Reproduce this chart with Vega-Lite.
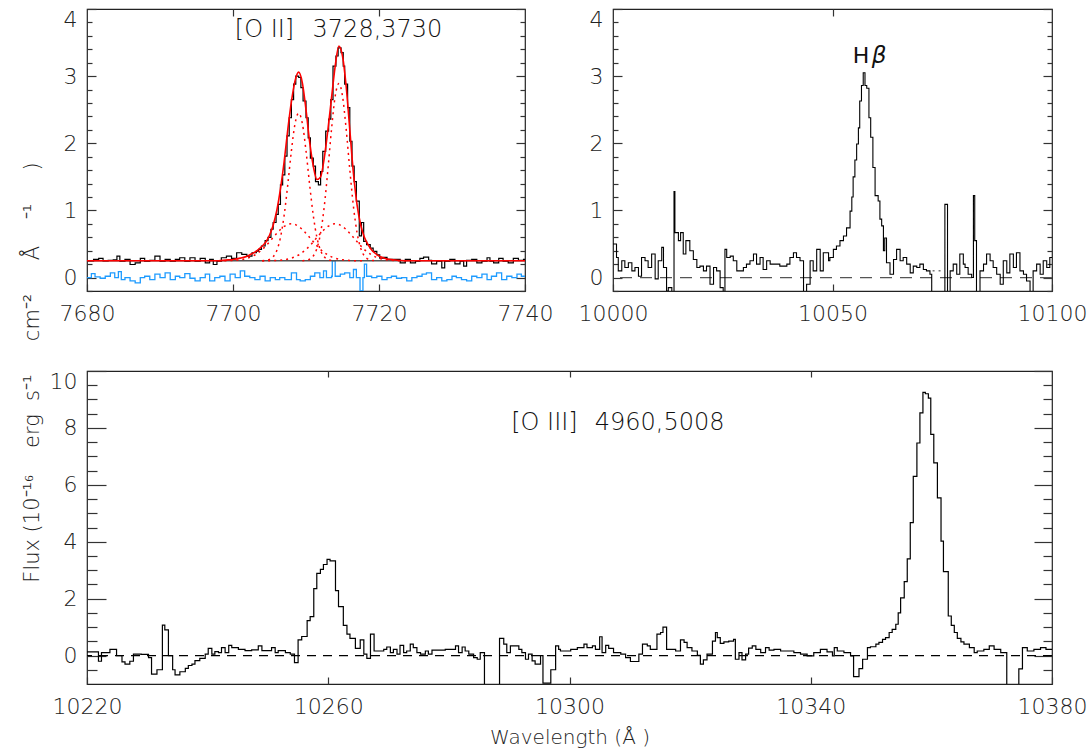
{
"$schema": "https://vega.github.io/schema/vega-lite/v6.json",
"background": "white",
"padding": {"left": 20, "top": 7, "right": 2, "bottom": 2},
"bounds": "flush",
"spacing": 362,
"datasets": {
"oii": [
{"w":7680.0,"f":0.25},{"w":7680.9,"f":0.27},{"w":7681.6,"f":0.285},{"w":7682.2,"f":0.25},{"w":7682.9,"f":0.255},{"w":7683.6,"f":0.265},{"w":7684.1,"f":0.32},{"w":7684.5,"f":0.245},{"w":7685.2,"f":0.27},{"w":7685.9,"f":0.195},{"w":7686.6,"f":0.22},{"w":7687.3,"f":0.285},{"w":7687.9,"f":0.245},{"w":7688.6,"f":0.255},{"w":7689.3,"f":0.32},{"w":7690.0,"f":0.245},{"w":7690.7,"f":0.27},{"w":7691.4,"f":0.245},{"w":7692.1,"f":0.27},{"w":7692.7,"f":0.295},{"w":7693.4,"f":0.245},{"w":7694.1,"f":0.295},{"w":7694.8,"f":0.245},{"w":7695.5,"f":0.285},{"w":7696.2,"f":0.22},{"w":7696.8,"f":0.27},{"w":7697.3,"f":0.195},{"w":7697.8,"f":0.245},{"w":7698.4,"f":0.295},{"w":7699.1,"f":0.32},{"w":7699.8,"f":0.285},{"w":7700.5,"f":0.37},{"w":7701.2,"f":0.345},{"w":7701.9,"f":0.32},{"w":7702.6,"f":0.37},{"w":7703.2,"f":0.395},
{"w":7703.5,"f":0.42},{"w":7703.9,"f":0.47},{"w":7704.4,"f":0.55},{"w":7704.8,"f":0.6},{"w":7705.2,"f":0.72},{"w":7705.5,"f":0.82},{"w":7705.9,"f":0.94},{"w":7706.2,"f":1.09},{"w":7706.5,"f":1.38},{"w":7706.8,"f":1.53},{"w":7707.1,"f":1.81},{"w":7707.4,"f":2.11},{"w":7707.7,"f":2.38},{"w":7708.0,"f":2.65},{"w":7708.3,"f":2.88},{"w":7708.6,"f":3.0},{"w":7709.0,"f":2.98},{"w":7709.3,"f":2.83},{"w":7709.6,"f":2.63},{"w":7710.0,"f":2.38},{"w":7710.3,"f":2.08},{"w":7710.6,"f":1.78},{"w":7711.0,"f":1.66},{"w":7711.3,"f":1.43},{"w":7711.7,"f":1.38},{"w":7712.0,"f":1.58},{"w":7712.3,"f":1.88},{"w":7712.7,"f":2.18},{"w":7713.1,"f":2.36},{"w":7713.4,"f":2.65},{"w":7713.7,"f":3.15},{"w":7714.1,"f":3.3},{"w":7714.4,"f":3.42},{"w":7714.8,"f":3.35},{"w":7715.1,"f":3.15},{"w":7715.3,"f":2.88},{"w":7715.7,"f":2.53},{"w":7716.0,"f":2.03},{"w":7716.3,"f":1.66},{"w":7716.6,"f":1.43},{"w":7716.9,"f":1.14},{"w":7717.3,"f":0.62},{"w":7717.6,"f":0.82},{"w":7717.9,"f":0.54},{"w":7718.3,"f":0.49},{"w":7718.8,"f":0.44},{"w":7719.2,"f":0.39},{"w":7719.7,"f":0.34},{"w":7720.1,"f":0.29},{"w":7720.6,"f":0.3},{"w":7721.1,"f":0.27},
{"w":7722.0,"f":0.27},{"w":7722.9,"f":0.22},{"w":7723.6,"f":0.27},{"w":7724.3,"f":0.22},{"w":7725.0,"f":0.245},{"w":7725.6,"f":0.285},{"w":7726.1,"f":0.305},{"w":7726.8,"f":0.255},{"w":7727.2,"f":0.205},{"w":7727.9,"f":0.245},{"w":7728.6,"f":0.145},{"w":7729.0,"f":0.245},{"w":7729.7,"f":0.27},{"w":7730.4,"f":0.205},{"w":7731.1,"f":0.245},{"w":7731.6,"f":0.17},{"w":7732.0,"f":0.255},{"w":7732.7,"f":0.27},{"w":7733.4,"f":0.22},{"w":7734.1,"f":0.245},{"w":7734.8,"f":0.295},{"w":7735.2,"f":0.245},{"w":7735.7,"f":0.22},{"w":7736.4,"f":0.285},{"w":7737.0,"f":0.245},{"w":7737.7,"f":0.22},{"w":7738.4,"f":0.285},{"w":7739.1,"f":0.255},{"w":7739.8,"f":0.27},{"w":7740.0,"f":0.27}
],
"oiifit": [
{"w":7680,"f":0.25},{"w":7698,"f":0.25},{"w":7699,"f":0.26},{"w":7700,"f":0.27},{"w":7701,"f":0.29},{"w":7702,"f":0.32},{"w":7702.5,"f":0.35},{"w":7703,"f":0.38},{"w":7703.5,"f":0.42},{"w":7704,"f":0.47},{"w":7704.5,"f":0.53},{"w":7705,"f":0.63},{"w":7705.5,"f":0.78},{"w":7706,"f":1.0},{"w":7706.5,"f":1.32},{"w":7707,"f":1.72},{"w":7707.5,"f":2.2},{"w":7708,"f":2.62},{"w":7708.5,"f":2.93},{"w":7709,"f":3.06},{"w":7709.5,"f":2.9},{"w":7710,"f":2.5},{"w":7710.5,"f":2.02},{"w":7711,"f":1.66},{"w":7711.5,"f":1.46},{"w":7712,"f":1.5},{"w":7712.5,"f":1.78},{"w":7713,"f":2.2},{"w":7713.5,"f":2.68},{"w":7714,"f":3.15},{"w":7714.5,"f":3.45},{"w":7715,"f":3.3},{"w":7715.5,"f":2.85},{"w":7716,"f":2.2},{"w":7716.5,"f":1.55},{"w":7717,"f":1.08},{"w":7717.5,"f":0.78},{"w":7718,"f":0.6},{"w":7718.5,"f":0.49},{"w":7719,"f":0.41},{"w":7719.5,"f":0.36},{"w":7720,"f":0.32},{"w":7720.5,"f":0.3},{"w":7721,"f":0.28},{"w":7722,"f":0.265},{"w":7723,"f":0.255},{"w":7724,"f":0.25},{"w":7740,"f":0.25}
],
"comp": [
{"c":"n1","w":7704,"f":0.251},{"c":"n1","w":7704.5,"f":0.256},{"c":"n1","w":7705,"f":0.269},{"c":"n1","w":7705.5,"f":0.309},{"c":"n1","w":7706,"f":0.404},{"c":"n1","w":7706.5,"f":0.595},{"c":"n1","w":7707,"f":0.923},{"c":"n1","w":7707.5,"f":1.381},{"c":"n1","w":7708,"f":1.887},{"c":"n1","w":7708.5,"f":2.294},{"c":"n1","w":7709,"f":2.45},{"c":"n1","w":7709.5,"f":2.294},{"c":"n1","w":7710,"f":1.887},{"c":"n1","w":7710.5,"f":1.381},{"c":"n1","w":7711,"f":0.923},{"c":"n1","w":7711.5,"f":0.595},{"c":"n1","w":7712,"f":0.404},{"c":"n1","w":7712.5,"f":0.309},{"c":"n1","w":7713,"f":0.269},{"c":"n1","w":7713.5,"f":0.256},{"c":"n1","w":7714,"f":0.251},
{"c":"n2","w":7709.5,"f":0.252},{"c":"n2","w":7710,"f":0.257},{"c":"n2","w":7710.5,"f":0.273},{"c":"n2","w":7711,"f":0.321},{"c":"n2","w":7711.5,"f":0.435},{"c":"n2","w":7712,"f":0.664},{"c":"n2","w":7712.5,"f":1.058},{"c":"n2","w":7713,"f":1.607},{"c":"n2","w":7713.5,"f":2.214},{"c":"n2","w":7714,"f":2.703},{"c":"n2","w":7714.5,"f":2.89},{"c":"n2","w":7715,"f":2.703},{"c":"n2","w":7715.5,"f":2.214},{"c":"n2","w":7716,"f":1.607},{"c":"n2","w":7716.5,"f":1.058},{"c":"n2","w":7717,"f":0.664},{"c":"n2","w":7717.5,"f":0.435},{"c":"n2","w":7718,"f":0.321},{"c":"n2","w":7718.5,"f":0.273},{"c":"n2","w":7719,"f":0.257},{"c":"n2","w":7719.5,"f":0.252},
{"c":"b1","w":7698,"f":0.25},{"c":"b1","w":7699,"f":0.251},{"c":"b1","w":7700,"f":0.255},{"c":"b1","w":7701,"f":0.265},{"c":"b1","w":7702,"f":0.289},{"c":"b1","w":7702.5,"f":0.309},{"c":"b1","w":7703,"f":0.336},{"c":"b1","w":7703.5,"f":0.373},{"c":"b1","w":7704,"f":0.418},{"c":"b1","w":7704.5,"f":0.472},{"c":"b1","w":7705,"f":0.533},{"c":"b1","w":7705.5,"f":0.597},{"c":"b1","w":7706,"f":0.659},{"c":"b1","w":7706.5,"f":0.716},{"c":"b1","w":7707,"f":0.761},{"c":"b1","w":7707.5,"f":0.79},{"c":"b1","w":7708,"f":0.8},{"c":"b1","w":7708.5,"f":0.79},{"c":"b1","w":7709,"f":0.761},{"c":"b1","w":7709.5,"f":0.716},{"c":"b1","w":7710,"f":0.659},{"c":"b1","w":7710.5,"f":0.597},{"c":"b1","w":7711,"f":0.533},{"c":"b1","w":7711.5,"f":0.472},{"c":"b1","w":7712,"f":0.418},{"c":"b1","w":7712.5,"f":0.373},{"c":"b1","w":7713,"f":0.336},{"c":"b1","w":7713.5,"f":0.309},{"c":"b1","w":7714,"f":0.289},{"c":"b1","w":7715,"f":0.265},{"c":"b1","w":7716,"f":0.255},{"c":"b1","w":7717,"f":0.251},{"c":"b1","w":7718,"f":0.25},
{"c":"b2","w":7704,"f":0.25},{"c":"b2","w":7705,"f":0.251},{"c":"b2","w":7706,"f":0.255},{"c":"b2","w":7707,"f":0.265},{"c":"b2","w":7708,"f":0.289},{"c":"b2","w":7708.5,"f":0.309},{"c":"b2","w":7709,"f":0.336},{"c":"b2","w":7709.5,"f":0.373},{"c":"b2","w":7710,"f":0.418},{"c":"b2","w":7710.5,"f":0.472},{"c":"b2","w":7711,"f":0.533},{"c":"b2","w":7711.5,"f":0.597},{"c":"b2","w":7712,"f":0.659},{"c":"b2","w":7712.5,"f":0.716},{"c":"b2","w":7713,"f":0.761},{"c":"b2","w":7713.5,"f":0.79},{"c":"b2","w":7714,"f":0.8},{"c":"b2","w":7714.5,"f":0.79},{"c":"b2","w":7715,"f":0.761},{"c":"b2","w":7715.5,"f":0.716},{"c":"b2","w":7716,"f":0.659},{"c":"b2","w":7716.5,"f":0.597},{"c":"b2","w":7717,"f":0.533},{"c":"b2","w":7717.5,"f":0.472},{"c":"b2","w":7718,"f":0.418},{"c":"b2","w":7718.5,"f":0.373},{"c":"b2","w":7719,"f":0.336},{"c":"b2","w":7719.5,"f":0.309},{"c":"b2","w":7720,"f":0.289},{"c":"b2","w":7721,"f":0.265},{"c":"b2","w":7722,"f":0.255},{"c":"b2","w":7723,"f":0.251},{"c":"b2","w":7724,"f":0.25}
],
"oiires": [
{"w":7680.0,"f":0.0},{"w":7680.6,"f":0.06},{"w":7681.1,"f":0.01},{"w":7681.8,"f":-0.01},{"w":7682.5,"f":0.02},{"w":7683.2,"f":0.07},{"w":7683.8,"f":0.0},{"w":7684.3,"f":0.09},{"w":7684.7,"f":-0.03},{"w":7685.2,"f":0.0},{"w":7685.9,"f":-0.05},{"w":7686.6,"f":-0.08},{"w":7687.3,"f":0.0},{"w":7687.9,"f":0.02},{"w":7688.6,"f":-0.03},{"w":7689.3,"f":0.05},{"w":7690.0,"f":0.0},{"w":7690.7,"f":0.07},{"w":7691.4,"f":-0.03},{"w":7692.1,"f":0.02},{"w":7692.7,"f":0.0},{"w":7693.4,"f":0.06},{"w":7694.1,"f":-0.01},{"w":7694.8,"f":-0.05},{"w":7695.5,"f":0.0},{"w":7696.2,"f":0.05},{"w":7696.8,"f":-0.05},{"w":7697.5,"f":0.0},{"w":7698.2,"f":0.02},{"w":7698.9,"f":-0.05},{"w":7699.6,"f":0.05},{"w":7700.3,"f":0.0},{"w":7701.0,"f":0.1},{"w":7701.6,"f":0.02},{"w":7702.3,"f":0.0},{"w":7703.0,"f":-0.03},{"w":7703.7,"f":0.02},{"w":7704.4,"f":-0.05},{"w":7705.1,"f":0.0},{"w":7705.8,"f":-0.03},{"w":7706.4,"f":0.0},{"w":7707.1,"f":-0.03},{"w":7708.0,"f":0.07},{"w":7708.7,"f":-0.03},{"w":7709.2,"f":-0.05},{"w":7709.9,"f":-0.03},{"w":7710.6,"f":0.02},{"w":7711.2,"f":0.07},{"w":7711.9,"f":0.0},{"w":7712.4,"f":0.1},{"w":7712.8,"f":0.0},{"w":7713.5,"f":0.02},{"w":7713.6,"f":0.25},{"w":7714.0,"f":0.02},{"w":7714.7,"f":0.05},{"w":7715.3,"f":0.07},{"w":7716.0,"f":0.0},{"w":7716.5,"f":0.12},{"w":7716.9,"f":0.0},{"w":7717.4,"f":-0.2},{"w":7717.8,"f":0.0},{"w":7718.0,"f":0.2},{"w":7718.3,"f":0.02},{"w":7719.0,"f":0.0},{"w":7719.7,"f":0.02},{"w":7720.4,"f":-0.03},{"w":7721.1,"f":0.0},{"w":7721.7,"f":0.02},{"w":7722.4,"f":-0.01},{"w":7723.1,"f":0.0},{"w":7723.8,"f":-0.05},{"w":7724.5,"f":0.0},{"w":7725.2,"f":0.02},{"w":7725.9,"f":0.05},{"w":7726.5,"f":0.07},{"w":7727.2,"f":-0.03},{"w":7727.9,"f":0.0},{"w":7728.6,"f":-0.05},{"w":7729.3,"f":-0.03},{"w":7730.0,"f":0.02},{"w":7730.6,"f":0.0},{"w":7731.3,"f":-0.03},{"w":7732.0,"f":-0.05},{"w":7732.7,"f":0.02},{"w":7733.4,"f":0.0},{"w":7734.1,"f":0.05},{"w":7734.8,"f":-0.03},{"w":7735.4,"f":0.02},{"w":7736.1,"f":0.07},{"w":7736.8,"f":-0.03},{"w":7737.5,"f":0.02},{"w":7738.2,"f":0.0},{"w":7738.9,"f":0.05},{"w":7739.5,"f":0.02},{"w":7740.0,"f":0.02}
],
"hb": [
{"w":10000.0,"f":0.5},{"w":10000.8,"f":0.3},{"w":10001.2,"f":0.1},{"w":10002.0,"f":0.25},{"w":10002.7,"f":0.15},{"w":10003.5,"f":0.22},{"w":10004.3,"f":0.1},{"w":10005.0,"f":0.15},{"w":10005.8,"f":0.02},{"w":10006.5,"f":0.3},{"w":10007.3,"f":0.25},{"w":10008.0,"f":0.15},{"w":10008.8,"f":0.35},{"w":10009.6,"f":-0.02},{"w":10010.3,"f":0.25},{"w":10011.1,"f":0.45},{"w":10011.5,"f":0.15},{"w":10012.2,"f":-0.2},{"w":10012.6,"f":-0.15},{"w":10013.4,"f":-0.4},{"w":10013.9,"f":1.28},{"w":10014.1,"f":0.67},{"w":10014.9,"f":0.55},{"w":10015.4,"f":0.67},{"w":10016.0,"f":0.35},{"w":10016.6,"f":0.55},{"w":10017.5,"f":0.4},{"w":10018.3,"f":0.27},{"w":10019.1,"f":0.15},{"w":10019.8,"f":0.17},{"w":10020.6,"f":0.1},{"w":10021.3,"f":0.17},{"w":10022.1,"f":-0.1},{"w":10022.9,"f":0.15},{"w":10023.6,"f":0.1},{"w":10024.4,"f":-0.15},{"w":10025.1,"f":-0.4},{"w":10025.5,"f":0.42},{"w":10025.9,"f":0.3},{"w":10026.7,"f":0.32},{"w":10027.4,"f":0.25},{"w":10028.2,"f":0.1},{"w":10028.9,"f":0.1},{"w":10029.7,"f":0.15},{"w":10030.4,"f":0.2},{"w":10031.2,"f":0.25},{"w":10032.0,"f":0.35},{"w":10032.7,"f":0.2},{"w":10033.5,"f":0.3},{"w":10034.2,"f":0.12},{"w":10035.0,"f":0.25},{"w":10035.8,"f":0.2},{"w":10036.5,"f":0.2},{"w":10038.0,"f":0.17},{"w":10039.6,"f":0.2},{"w":10040.3,"f":0.3},{"w":10041.1,"f":0.37},{"w":10041.8,"f":0.3},{"w":10042.6,"f":0.25},{"w":10043.4,"f":-0.3},{"w":10044.1,"f":-0.1},{"w":10044.9,"f":0.25},{"w":10045.6,"f":0.1},{"w":10046.4,"f":0.42},{"w":10047.2,"f":0.1},{"w":10047.9,"f":0.37},{"w":10049.1,"f":0.25},{"w":10049.4,"f":0.3},{"w":10050.2,"f":0.42},{"w":10050.9,"f":0.47},{"w":10051.7,"f":0.55},{"w":10052.5,"f":0.62},{"w":10053.2,"f":0.74},{"w":10054.0,"f":0.99},{"w":10054.4,"f":1.2},{"w":10054.7,"f":1.5},{"w":10055.1,"f":1.75},{"w":10055.5,"f":1.99},{"w":10055.9,"f":2.23},{"w":10056.2,"f":2.63},{"w":10056.6,"f":2.86},{"w":10057.0,"f":3.05},{"w":10057.4,"f":2.86},{"w":10057.8,"f":2.82},{"w":10058.3,"f":2.38},{"w":10058.7,"f":2.09},{"w":10059.2,"f":1.64},{"w":10059.7,"f":1.22},{"w":10060.4,"f":1.14},{"w":10060.8,"f":0.87},{"w":10061.2,"f":0.77},{"w":10061.6,"f":0.4},{"w":10061.9,"f":0.59},{"w":10062.3,"f":0.22},{"w":10063.1,"f":0.05},{"w":10063.9,"f":0.27},{"w":10064.6,"f":0.42},{"w":10065.4,"f":0.25},{"w":10066.1,"f":0.3},{"w":10066.9,"f":0.2},{"w":10067.7,"f":0.07},{"w":10068.4,"f":0.17},{"w":10069.2,"f":0.15},{"w":10069.9,"f":0.2},{"w":10070.7,"f":0.12},{"w":10071.4,"f":0.1},{"w":10072.2,"f":0.05},{"w":10072.6,"f":-0.5},{"w":10075.6,"f":1.09},{"w":10076.2,"f":-0.3},{"w":10076.8,"f":0.1},{"w":10077.5,"f":0.2},{"w":10078.3,"f":0.05},{"w":10079.0,"f":0.35},{"w":10079.8,"f":0.2},{"w":10080.2,"f":0.15},{"w":10080.9,"f":0.05},{"w":10081.7,"f":0.0},{"w":10082.1,"f":1.22},{"w":10082.4,"f":0.55},{"w":10082.8,"f":-0.4},{"w":10083.6,"f":0.1},{"w":10084.4,"f":0.2},{"w":10085.1,"f":0.35},{"w":10085.9,"f":0.25},{"w":10086.6,"f":0.15},{"w":10087.4,"f":0.05},{"w":10088.2,"f":-0.1},{"w":10088.9,"f":0.25},{"w":10089.7,"f":0.07},{"w":10090.4,"f":0.35},{"w":10091.2,"f":0.15},{"w":10091.9,"f":0.37},{"w":10092.7,"f":0.1},{"w":10093.5,"f":0.05},{"w":10094.2,"f":-0.05},{"w":10095.0,"f":-0.3},{"w":10095.7,"f":0.1},{"w":10096.5,"f":0.2},{"w":10097.3,"f":0.05},{"w":10098.0,"f":0.25},{"w":10098.8,"f":0.15},{"w":10099.5,"f":0.3},{"w":10100.0,"f":0.3}
],
"hbgap": [{"w":10072.8,"f":0.1},{"w":10075.4,"f":0.1}],
"oiii": [
{"w":10220.0,"f":0.13},{"w":10221.9,"f":-0.2},{"w":10222.4,"f":0.1},{"w":10223.8,"f":0.22},{"w":10224.9,"f":0.0},{"w":10225.8,"f":-0.22},{"w":10226.3,"f":-0.3},{"w":10227.1,"f":-0.2},{"w":10227.7,"f":0.05},{"w":10229.0,"f":0.04},{"w":10230.2,"f":-0.07},{"w":10230.7,"f":-0.65},{"w":10231.6,"f":-0.5},{"w":10232.5,"f":1.07},{"w":10232.9,"f":0.9},{"w":10233.5,"f":0.0},{"w":10234.2,"f":-0.5},{"w":10234.6,"f":-0.68},{"w":10235.4,"f":-0.57},{"w":10236.3,"f":-0.45},{"w":10236.8,"f":-0.35},{"w":10237.4,"f":-0.3},{"w":10237.9,"f":-0.18},{"w":10238.7,"f":-0.1},{"w":10239.6,"f":0.05},{"w":10240.1,"f":0.25},{"w":10240.7,"f":0.05},{"w":10241.2,"f":0.14},{"w":10241.8,"f":0.1},{"w":10242.3,"f":0.28},{"w":10242.9,"f":0.1},{"w":10243.5,"f":0.36},{"w":10244.0,"f":0.28},{"w":10245.1,"f":0.22},{"w":10246.2,"f":0.17},{"w":10247.3,"f":0.2},{"w":10248.4,"f":0.34},{"w":10249.0,"f":0.17},{"w":10250.6,"f":0.28},{"w":10251.2,"f":0.1},{"w":10251.7,"f":0.17},{"w":10252.9,"f":0.1},{"w":10253.7,"f":0.05},{"w":10254.4,"f":-0.25},{"w":10255.0,"f":0.55},{"w":10255.6,"f":0.67},{"w":10256.5,"f":1.23},{"w":10257.0,"f":1.37},{"w":10257.6,"f":2.35},{"w":10258.1,"f":2.89},{"w":10258.7,"f":3.03},{"w":10259.2,"f":3.2},{"w":10259.8,"f":3.38},{"w":10260.3,"f":3.33},{"w":10261.2,"f":2.28},{"w":10261.7,"f":1.72},{"w":10262.5,"f":1.06},{"w":10263.1,"f":0.75},{"w":10263.6,"f":0.6},{"w":10264.5,"f":0.25},{"w":10265.3,"f":0.55},{"w":10265.9,"f":0.05},{"w":10266.4,"f":-0.1},{"w":10267.0,"f":0.75},{"w":10267.6,"f":0.16},{"w":10269.2,"f":0.22},{"w":10269.7,"f":0.3},{"w":10270.3,"f":0.1},{"w":10270.8,"f":0.22},{"w":10271.4,"f":0.05},{"w":10271.9,"f":0.36},{"w":10272.5,"f":0.1},{"w":10273.0,"f":0.16},{"w":10273.6,"f":0.4},{"w":10274.1,"f":0.28},{"w":10274.7,"f":0.1},{"w":10275.3,"f":0.05},{"w":10276.1,"f":0.16},{"w":10276.6,"f":0.05},{"w":10277.2,"f":0.19},{"w":10279.4,"f":0.22},{"w":10281.1,"f":0.34},{"w":10281.6,"f":0.1},{"w":10282.2,"f":0.3},{"w":10282.7,"f":0.16},{"w":10283.3,"f":0.05},{"w":10284.1,"f":-0.07},{"w":10284.7,"f":-0.13},{"w":10285.2,"f":0.1},{"w":10285.9,"f":-1.5},{"w":10288.4,"f":0.6},{"w":10289.1,"f":0.4},{"w":10289.6,"f":0.1},{"w":10290.2,"f":0.34},{"w":10291.6,"f":0.22},{"w":10292.1,"f":0.1},{"w":10292.7,"f":-0.13},{"w":10293.2,"f":0.05},{"w":10293.8,"f":-0.19},{"w":10294.3,"f":-0.3},{"w":10295.2,"f":0.0},{"w":10295.6,"f":-0.97},{"w":10296.9,"f":-0.5},{"w":10297.7,"f":0.34},{"w":10298.2,"f":0.22},
{"w":10298.5,"f":0.16},{"w":10300.2,"f":0.22},{"w":10301.3,"f":0.28},{"w":10302.4,"f":0.4},{"w":10302.9,"f":0.28},{"w":10303.8,"f":0.34},{"w":10304.3,"f":0.22},{"w":10305.0,"f":0.66},{"w":10305.4,"f":0.1},{"w":10306.0,"f":0.36},{"w":10306.5,"f":0.25},{"w":10307.3,"f":0.1},{"w":10308.5,"f":0.05},{"w":10309.3,"f":-0.07},{"w":10310.1,"f":-0.21},{"w":10311.5,"f":0.05},{"w":10312.1,"f":0.4},{"w":10312.9,"f":0.34},{"w":10313.4,"f":0.22},{"w":10314.5,"f":0.75},{"w":10315.1,"f":0.81},{"w":10315.5,"f":1.0},{"w":10316.1,"f":0.22},{"w":10317.6,"f":0.16},{"w":10318.4,"f":0.55},{"w":10319.0,"f":0.46},{"w":10319.5,"f":0.28},{"w":10320.3,"f":0.16},{"w":10321.2,"f":0.01},{"w":10321.7,"f":-0.3},{"w":10322.2,"f":-0.15},{"w":10322.8,"f":0.05},{"w":10323.7,"f":0.51},{"w":10324.2,"f":0.81},{"w":10324.5,"f":0.63},{"w":10325.0,"f":0.43},{"w":10325.6,"f":0.48},{"w":10326.4,"f":0.51},{"w":10327.2,"f":0.57},{"w":10327.5,"f":-0.13},{"w":10328.1,"f":0.1},{"w":10328.6,"f":-0.15},{"w":10329.2,"f":0.05},{"w":10329.7,"f":0.26},{"w":10330.3,"f":0.34},{"w":10330.9,"f":0.22},{"w":10331.7,"f":0.1},{"w":10332.5,"f":0.28},{"w":10333.1,"f":0.19},{"w":10333.9,"f":0.22},{"w":10335.0,"f":0.16},{"w":10336.1,"f":0.16},{"w":10337.2,"f":0.1},{"w":10338.3,"f":0.05},{"w":10339.4,"f":-0.01},{"w":10340.5,"f":0.1},{"w":10341.6,"f":0.22},{"w":10342.7,"f":0.13},{"w":10343.6,"f":-0.01},{"w":10343.9,"f":0.28},{"w":10344.4,"f":0.16},{"w":10345.5,"f":0.1},{"w":10346.6,"f":-0.01},{"w":10347.1,"f":-0.74},{"w":10348.0,"f":-0.46},{"w":10348.6,"f":-0.13},{"w":10349.4,"f":0.28},{"w":10349.9,"f":0.31},{"w":10350.8,"f":0.4},{"w":10351.3,"f":0.46},{"w":10351.9,"f":0.57},{"w":10352.4,"f":0.63},{"w":10353.0,"f":0.81},{"w":10353.5,"f":0.92},{"w":10354.1,"f":1.1},{"w":10354.5,"f":1.5},{"w":10354.9,"f":2.03},{"w":10355.5,"f":2.6},{"w":10356.0,"f":3.4},{"w":10356.5,"f":4.67},{"w":10357.0,"f":6.3},{"w":10357.6,"f":7.47},{"w":10358.1,"f":8.53},{"w":10358.6,"f":9.25},{"w":10359.0,"f":9.2},{"w":10359.5,"f":9.05},{"w":10359.9,"f":7.77},{"w":10360.4,"f":6.77},{"w":10361.0,"f":5.54},{"w":10361.6,"f":4.02},{"w":10362.0,"f":2.95},{"w":10362.8,"f":1.39},{"w":10363.3,"f":1.06},{"w":10363.8,"f":0.81},{"w":10364.3,"f":0.6},{"w":10364.9,"f":0.48},{"w":10365.4,"f":0.4},{"w":10366.3,"f":0.28},{"w":10367.1,"f":0.1},{"w":10367.6,"f":0.16},{"w":10368.7,"f":0.22},{"w":10369.6,"f":0.34},{"w":10370.4,"f":0.22},{"w":10371.5,"f":0.1},{"w":10372.5,"f":-1.5},{"w":10374.5,"f":-0.47},{"w":10375.1,"f":0.28},{"w":10375.9,"f":0.16},{"w":10377.0,"f":0.22},{"w":10378.1,"f":0.28},{"w":10379.0,"f":0.22},{"w":10380.0,"f":0.22}
]
},
"vconcat": [
{
"bounds": "flush",
"spacing": 88,
"hconcat": [
{
"width": 438, "height": 282,
"resolve": {"axis": {"x": "independent", "y": "independent"}},
"layer": [
{"data": {"name": "oiires"}, "mark": {"type": "line", "interpolate": "step-after", "color": "#1E9BFF", "strokeWidth": 1.3, "clip": true},
 "encoding": {
  "x": {"field": "w", "type": "quantitative", "scale": {"domain": [7680, 7740], "nice": false, "zero": false}, "axis": {"orient": "bottom", "values": [7680, 7700, 7720, 7740], "format": "d", "tickSize": -7, "labelPadding": 19, "labelFlush": false, "title": null}},
  "y": {"field": "f", "type": "quantitative", "scale": {"domain": [-0.2, 4], "nice": false, "zero": false}, "axis": {"orient": "left", "values": [0, 1, 2, 3, 4], "format": "d", "tickSize": -9, "labelPadding": 19, "labelFlush": true, "title": null}}}},
{"data": {"values": [{}]}, "mark": {"type": "rule", "color": "#555", "strokeWidth": 1.5},
 "encoding": {"y": {"datum": 0.25, "type": "quantitative", "scale": {"domain": [-0.2, 4], "nice": false, "zero": false}, "axis": null}}},
{"data": {"name": "oii"}, "mark": {"type": "line", "interpolate": "step-after", "color": "#000", "strokeWidth": 1.2, "clip": true},
 "encoding": {
  "x": {"field": "w", "type": "quantitative", "scale": {"domain": [7680, 7740], "nice": false, "zero": false}, "axis": {"orient": "top", "values": [7700, 7720], "tickSize": -7, "labels": false, "title": null}},
  "y": {"field": "f", "type": "quantitative", "scale": {"domain": [-0.2, 4], "nice": false, "zero": false}, "axis": {"orient": "right", "values": [0, 1, 2, 3, 4], "tickSize": -9, "labels": false, "title": null}}}},
{"data": {"name": "comp"}, "mark": {"type": "line", "interpolate": "monotone", "color": "#FF0000", "strokeDash": [2, 4], "strokeWidth": 1.5, "clip": true},
 "encoding": {
  "x": {"field": "w", "type": "quantitative", "scale": {"domain": [7680, 7740], "nice": false, "zero": false}, "axis": null},
  "y": {"field": "f", "type": "quantitative", "scale": {"domain": [-0.2, 4], "nice": false, "zero": false}, "axis": {"orient": "left", "values": [-0.2, 0.2, 0.4, 0.6, 0.8, 1.2, 1.4, 1.6, 1.8, 2.2, 2.4, 2.6, 2.8, 3.2, 3.4, 3.6, 3.8], "tickSize": -5, "labels": false, "title": null}},
  "detail": {"field": "c"}}},
{"data": {"name": "oiifit"}, "mark": {"type": "line", "interpolate": "monotone", "color": "#FF0000", "strokeWidth": 1.6, "clip": true},
 "encoding": {
  "x": {"field": "w", "type": "quantitative", "scale": {"domain": [7680, 7740], "nice": false, "zero": false}, "axis": null},
  "y": {"field": "f", "type": "quantitative", "scale": {"domain": [-0.2, 4], "nice": false, "zero": false}, "axis": {"orient": "right", "values": [-0.2, 0.2, 0.4, 0.6, 0.8, 1.2, 1.4, 1.6, 1.8, 2.2, 2.4, 2.6, 2.8, 3.2, 3.4, 3.6, 3.8], "tickSize": -5, "labels": false, "title": null}}}},
{"data": {"values": [{}]}, "mark": {"type": "text", "fontSize": 24, "color": "#111", "align": "center", "baseline": "alphabetic"},
 "encoding": {
  "x": {"datum": 7704.32, "type": "quantitative", "scale": {"domain": [7680, 7740], "nice": false, "zero": false}, "axis": null},
  "y": {"datum": 3.58, "type": "quantitative", "scale": {"domain": [-0.2, 4], "nice": false, "zero": false}, "axis": null},
  "text": {"value": "[O II]"}}},
{"data": {"values": [{}]}, "mark": {"type": "text", "fontSize": 24, "color": "#111", "align": "center", "baseline": "alphabetic"},
 "encoding": {
  "x": {"datum": 7719.79, "type": "quantitative", "scale": {"domain": [7680, 7740], "nice": false, "zero": false}, "axis": null},
  "y": {"datum": 3.58, "type": "quantitative", "scale": {"domain": [-0.2, 4], "nice": false, "zero": false}, "axis": null},
  "text": {"value": "3728,3730"}}}
]
},
{
"width": 439, "height": 282,
"resolve": {"axis": {"x": "independent", "y": "independent"}},
"layer": [
{"data": {"values": [{}]}, "mark": {"type": "rule", "color": "#555", "strokeWidth": 1.3, "strokeDash": [12, 8]},
 "encoding": {"y": {"datum": 0, "type": "quantitative", "scale": {"domain": [-0.2, 4], "nice": false, "zero": false}, "axis": {"orient": "right", "values": [-0.2, 0.2, 0.4, 0.6, 0.8, 1.2, 1.4, 1.6, 1.8, 2.2, 2.4, 2.6, 2.8, 3.2, 3.4, 3.6, 3.8], "tickSize": -5, "labels": false, "title": null}}}},
{"data": {"name": "hb"}, "mark": {"type": "line", "interpolate": "step-after", "color": "#000", "strokeWidth": 1.1, "clip": true},
 "encoding": {
  "x": {"field": "w", "type": "quantitative", "scale": {"domain": [10000, 10100], "nice": false, "zero": false}, "axis": {"orient": "bottom", "values": [10000, 10050, 10100], "format": "d", "tickSize": -7, "labelPadding": 19, "labelFlush": false, "title": null}},
  "y": {"field": "f", "type": "quantitative", "scale": {"domain": [-0.2, 4], "nice": false, "zero": false}, "axis": {"orient": "left", "values": [0, 1, 2, 3, 4], "format": "d", "tickSize": -9, "labelPadding": 19, "labelFlush": true, "title": null}}}},
{"data": {"name": "hbgap"}, "mark": {"type": "line", "color": "#333", "strokeWidth": 1, "strokeDash": [2, 4]},
 "encoding": {
  "x": {"field": "w", "type": "quantitative", "scale": {"domain": [10000, 10100], "nice": false, "zero": false}, "axis": {"orient": "top", "values": [10050], "tickSize": -7, "labels": false, "title": null}},
  "y": {"field": "f", "type": "quantitative", "scale": {"domain": [-0.2, 4], "nice": false, "zero": false}, "axis": {"orient": "right", "values": [0, 1, 2, 3, 4], "tickSize": -9, "labels": false, "title": null}}}},
{"data": {"values": [{}]}, "mark": {"type": "text", "fontSize": 22, "color": "#111", "fill": "#111", "fontWeight": "normal", "align": "center", "baseline": "alphabetic"},
 "encoding": {
  "x": {"datum": 10056.5, "type": "quantitative", "scale": {"domain": [10000, 10100], "nice": false, "zero": false}, "axis": null},
  "y": {"datum": 3.2, "type": "quantitative", "scale": {"domain": [-0.2, 4], "nice": false, "zero": false}, "axis": {"orient": "left", "values": [-0.2, 0.2, 0.4, 0.6, 0.8, 1.2, 1.4, 1.6, 1.8, 2.2, 2.4, 2.6, 2.8, 3.2, 3.4, 3.6, 3.8], "tickSize": -5, "labels": false, "title": null}},
  "text": {"value": "H"}}},
{"data": {"values": [{}]}, "mark": {"type": "text", "fontSize": 23, "fontStyle": "italic", "fontWeight": "normal", "color": "#111", "align": "center", "baseline": "alphabetic"},
 "encoding": {
  "x": {"datum": 10060.6, "type": "quantitative", "scale": {"domain": [10000, 10100], "nice": false, "zero": false}, "axis": null},
  "y": {"datum": 3.2, "type": "quantitative", "scale": {"domain": [-0.2, 4], "nice": false, "zero": false}, "axis": null},
  "text": {"value": "β"}}}
]
}
]
},
{
"width": 965, "height": 313,
"resolve": {"axis": {"x": "independent", "y": "independent"}},
"layer": [
{"data": {"values": [{}]}, "mark": {"type": "rule", "color": "#000", "strokeWidth": 1.2, "strokeDash": [9, 7]},
 "encoding": {"y": {"datum": 0, "type": "quantitative", "scale": {"domain": [-1, 10], "nice": false, "zero": false}, "axis": {"orient": "right", "values": [-0.5, 0.5, 1, 1.5, 2.5, 3, 3.5, 4.5, 5, 5.5, 6.5, 7, 7.5, 8.5, 9, 9.5], "tickSize": -9, "labels": false, "title": null}}}},
{"data": {"name": "oiii"}, "mark": {"type": "line", "interpolate": "step-after", "color": "#000", "strokeWidth": 1.2, "clip": true},
 "encoding": {
  "x": {"field": "w", "type": "quantitative", "scale": {"domain": [10220, 10380], "nice": false, "zero": false}, "axis": {"orient": "bottom", "values": [10220, 10260, 10300, 10340, 10380], "format": "d", "tickSize": -7, "labelPadding": 19, "labelFlush": false, "title": "Wavelength (Å )", "titleY": 53, "titleBaseline": "middle"}},
  "y": {"field": "f", "type": "quantitative", "scale": {"domain": [-1, 10], "nice": false, "zero": false}, "axis": {"orient": "left", "values": [0, 2, 4, 6, 8, 10], "format": "d", "tickSize": -19, "labelPadding": 29, "labelFlush": true, "title": "Flux (10⁻¹⁶\u00a0\u00a0\u00a0\u00a0erg\u00a0\u00a0s⁻¹\u00a0\u00a0\u00a0\u00a0\u00a0cm⁻²\u00a0\u00a0\u00a0\u00a0\u00a0Å\u00a0\u00a0\u00a0\u00a0⁻¹\u00a0\u00a0\u00a0\u00a0\u00a0)", "titleX": -55, "titleY": 1, "titleAngle": -90, "titleAlign": "center", "titleBaseline": "middle", "titleFontSize": 21}}}},
{"data": {"values": [{}]}, "mark": {"type": "text", "fontSize": 24, "color": "#111", "align": "center", "baseline": "alphabetic"},
 "encoding": {
  "x": {"datum": 10295.85, "type": "quantitative", "scale": {"domain": [10220, 10380], "nice": false, "zero": false}, "axis": {"orient": "top", "values": [10260, 10300, 10340], "tickSize": -6, "labels": false, "title": null}},
  "y": {"datum": 7.93, "type": "quantitative", "scale": {"domain": [-1, 10], "nice": false, "zero": false}, "axis": {"orient": "right", "values": [0, 2, 4, 6, 8, 10], "tickSize": -18, "labels": false, "title": null}},
  "text": {"value": "[O III]"}}},
{"data": {"values": [{}]}, "mark": {"type": "text", "fontSize": 24, "color": "#111", "align": "center", "baseline": "alphabetic"},
 "encoding": {
  "x": {"datum": 10314.94, "type": "quantitative", "scale": {"domain": [10220, 10380], "nice": false, "zero": false}, "axis": null},
  "y": {"datum": 7.93, "type": "quantitative", "scale": {"domain": [-1, 10], "nice": false, "zero": false}, "axis": {"orient": "left", "values": [-0.5, 0.5, 1, 1.5, 2.5, 3, 3.5, 4.5, 5, 5.5, 6.5, 7, 7.5, 8.5, 9, 9.5], "tickSize": -10, "labels": false, "title": null}},
  "text": {"value": "4960,5008"}}}
]
}
],
"config": {
 "view": {"stroke": "#222", "strokeWidth": 1.2},
 "axis": {"domain": false, "grid": false, "tickColor": "#333", "tickWidth": 1.2, "labelFont": "DejaVu Sans", "labelFontSize": 22, "labelFontWeight": 300, "labelColor": "#222", "titleFont": "DejaVu Sans", "titleFontSize": 20, "titleFontWeight": 300, "titleColor": "#222"},
 "text": {"font": "DejaVu Sans", "fontWeight": 300, "color": "#111"}
}
}
